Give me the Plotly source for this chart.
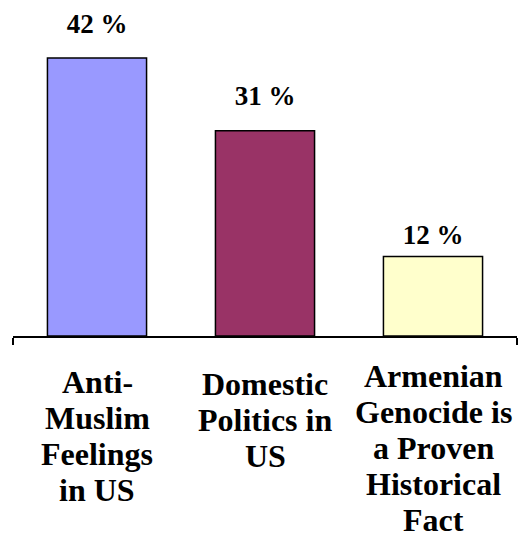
import plotly.graph_objects as go

categories = ["Anti-<br>Muslim<br>Feelings<br>in US",
              "Domestic<br>Politics in<br>US",
              "Armenian<br>Genocide is<br>a Proven<br>Historical<br>Fact"]
values = [42, 31, 12]
value_labels = ["42 %", "31 %", "12 %"]
colors = ["#9999FF", "#993366", "#FFFFCC"]

# styling / placement (pixels)
value_label_shift = [34, 35, 22]
cat_first_baseline = [393, 395, 387]
line_pitch = 36
plot_bottom_px = 336
cat_font = 32
val_font = 27
serif = "Liberation Serif"
x_range = [-0.5, 2.5]
y_range = [0, 50.76]

x = list(range(len(categories)))


def xpaper(xv):
    return (xv - x_range[0]) / (x_range[1] - x_range[0])


def wrap(t):
    return "&nbsp;<b>" + t + "</b>&nbsp;"


fig = go.Figure()
fig.add_trace(go.Bar(
    x=x, y=values, width=0.59,
    marker=dict(color=colors, line=dict(color="black", width=1.5)),
))

annotations = []
for i, (v, lab) in enumerate(zip(values, value_labels)):
    ypaper = (v - y_range[0]) / (y_range[1] - y_range[0]) + value_label_shift[i] / plot_bottom_px
    annotations.append(dict(
        x=xpaper(i), y=ypaper, xref="paper", yref="paper", text=wrap(lab), showarrow=False,
        yanchor="middle", xanchor="center",
        font=dict(family=serif, size=val_font, color="black"),
    ))
for i, cat in enumerate(categories):
    for k, line in enumerate(cat.split("<br>")):
        baseline = cat_first_baseline[i] + k * line_pitch
        center = baseline - 0.3375 * cat_font
        annotations.append(dict(
            x=xpaper(i), y=(plot_bottom_px - center) / plot_bottom_px,
            xref="paper", yref="paper", text=wrap(line), showarrow=False,
            yanchor="middle", xanchor="center",
            font=dict(family=serif, size=cat_font, color="black"),
        ))

fig.update_layout(
    width=530, height=536,
    margin=dict(l=13, r=13, t=0, b=536 - plot_bottom_px),
    paper_bgcolor="white", plot_bgcolor="white",
    showlegend=False,
    annotations=annotations,
    xaxis=dict(range=x_range, showline=True, linecolor="black", linewidth=2,
               ticks="outside", tickvals=x_range, ticktext=["", ""],
               ticklen=7, tickwidth=2, tickcolor="black", showgrid=False,
               zeroline=False, fixedrange=True),
    yaxis=dict(range=y_range, visible=False, showgrid=False, zeroline=False,
               fixedrange=True),
)

fig.write_html("out.html", config={"displayModeBar": False},
               post_script="document.body.style.margin='0';")
